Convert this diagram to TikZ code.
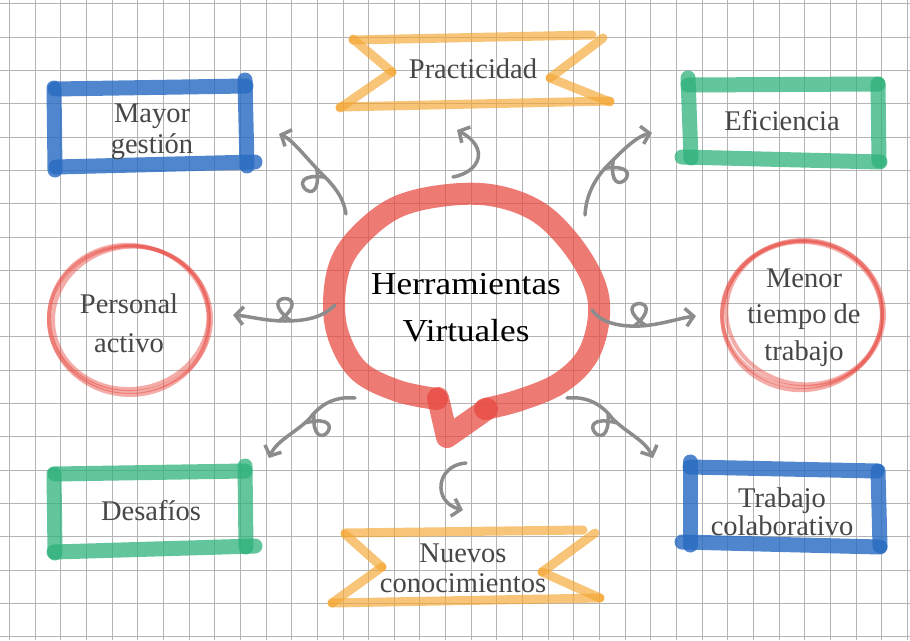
\documentclass[tikz,border=0pt]{standalone}
\usepackage{fontspec}
\setmainfont{Liberation Serif}
\newfontfamily\bubblefont[FakeStretch=1.1]{Liberation Serif}
\usetikzlibrary{arrows.meta}
\definecolor{labelgray}{HTML}{474747}
\definecolor{gridc}{HTML}{B4B4B4}
\definecolor{arrowc}{HTML}{8C8C8C}
\definecolor{redc}{HTML}{E8483F}
\definecolor{bluec}{HTML}{2A6CC2}
\definecolor{greenc}{HTML}{2EB27A}
\definecolor{orangec}{HTML}{F5A630}
\newcommand{\lblstack}[1]{\begin{tabular}[t]{@{}c@{}}#1\end{tabular}}
\tikzset{
  gridline/.style={draw=gridc, line width=0.55pt},
  bluestroke/.style={draw=bluec, draw opacity=0.82, line width=15pt, line cap=round},
  greenstroke/.style={draw=greenc, draw opacity=0.75, line width=15pt, line cap=round},
  orangestroke/.style={draw=orangec, draw opacity=0.65, line width=9pt, line cap=round},
  redring/.style={draw=redc, draw opacity=0.45, line width=4pt},
  bubblestroke/.style={draw=redc, draw opacity=0.72, line width=22pt, line cap=round, line join=round},
  garrow/.style={draw=arrowc, line width=3.5pt, line cap=round, -{Straight Barb[length=8pt,width=18pt]}},
  gline/.style={draw=arrowc, line width=3.5pt, line cap=round},
  lbl/.style={font=\fontsize{28.5}{#1}\selectfont, text=labelgray, inner sep=0pt, anchor=base},
  lbl/.default=32,
  centertext/.style={font=\bubblefont\fontsize{32}{47}\selectfont, text=black, inner sep=0pt, anchor=base},
  curl/.pic={\draw[gline] (-6,0) .. controls (34,-30) and (-34,-30) .. (6,0);}
}
\begin{document}
\begin{tikzpicture}[x=1pt,y=-1pt]
\useasboundingbox (0,0) rectangle (910,640);
\fill[white] (0,0) rectangle (910,640);
% grid paper
\foreach \k in {-1,...,34} \draw[gridline] ({35+25.65*\k},0) -- ({35+25.65*\k},640);
\foreach \k in {-1,...,18} \draw[gridline] (0,{37+33.3*\k}) -- (910,{37+33.3*\k});

% Mayor gestion (blue)
\draw[bluestroke] (55,89) -- (246,86);
\draw[bluestroke] (245,80) -- (247,166);
\draw[bluestroke] (56,167) -- (255,162);
\draw[bluestroke] (54,88) -- (55,170);
% Eficiencia (green)
\draw[greenstroke] (688,85) -- (878,84);
\draw[greenstroke] (878,84) -- (879,161);
\draw[greenstroke] (682,157) -- (880,162);
\draw[greenstroke] (688,78) -- (691,158);
% Desafios (green)
\draw[greenstroke] (55,474) -- (245,471);
\draw[greenstroke] (245,466) -- (246,547);
\draw[greenstroke] (54,552) -- (255,546);
\draw[greenstroke] (54,474) -- (55,553);
% Trabajo colaborativo (blue)
\draw[bluestroke] (690,467) -- (877,471);
\draw[bluestroke] (878,471) -- (880,546);
\draw[bluestroke] (682,542) -- (880,547);
\draw[bluestroke] (690,462) -- (690,545);

% ribbons
\draw[orangestroke] (353,40) -- (592,35);
\draw[orangestroke] (353,39) -- (392,72);
\draw[orangestroke] (392,72) -- (340,108);
\draw[orangestroke] (340,107) -- (610,101);
\draw[orangestroke] (603,38) -- (550,78);
\draw[orangestroke] (550,78) -- (610,102);

\draw[orangestroke] (345,533) -- (583,530);
\draw[orangestroke] (345,534) -- (382,567);
\draw[orangestroke] (382,567) -- (332,603);
\draw[orangestroke] (332,603) -- (600,598);
\draw[orangestroke] (595,533) -- (542,572);
\draw[orangestroke] (542,572) -- (600,598);

% red rings
\draw[redring] (130,319) ellipse [x radius=81, y radius=73];
\draw[redring, rotate around={10:(130,319)}] (131,318) ellipse [x radius=78, y radius=71];
\draw[redring, rotate around={-6:(130,319)}] (129,320) ellipse [x radius=80, y radius=75];
\draw[redring] (803,314) ellipse [x radius=81, y radius=73];
\draw[redring, rotate around={-9:(803,314)}] (804,313) ellipse [x radius=78, y radius=71];
\draw[redring, rotate around={7:(803,314)}] (802,315) ellipse [x radius=80, y radius=75];

% speech bubble
\draw[bubblestroke] plot[smooth, tension=0.6] coordinates {(437,399) (398,391) (360,372) (340,340) (334,305) (340,265) (360,235) (395,208) (440,196) (490,195) (535,210) (568,240) (593,280) (599,315) (588,355) (560,383) (520,400) (485,409)};
\draw[bubblestroke] (438,398) -- (447,437) -- (487,409);

% labels
\node[centertext] (center) at (466,294) {\lblstack{Herramientas\\Virtuales}};
\node[lbl] (practicidad) at (473,78) {Practicidad};
\node[lbl=31] (mayor) at (152,122) {\lblstack{Mayor\\gestión}};
\node[lbl] (eficiencia) at (782,130) {Eficiencia};
\node[lbl=39] (personal) at (129,313) {\lblstack{Personal\\activo}};
\node[lbl=36.5] (menor) at (804,287) {\lblstack{Menor\\tiempo de\\trabajo}};
\node[lbl] (desafios) at (151,520) {Desafíos};
\node[lbl=28] (trabajo) at (782,507) {\lblstack{Trabajo\\colaborativo}};
\node[lbl=30] (nuevos) at (463,562) {\lblstack{Nuevos\\conocimientos}};

% arrows
\coordinate (s1) at (346,214); \coordinate (p1) at (321,173); \coordinate (t1) at (279,134);
\draw[garrow] (s1) .. controls (343,196) and (334,186) .. (p1) .. controls (306,158) and (293,140) .. (t1);
\pic[rotate=135] at (p1) {curl};

\coordinate (s2) at (453,177); \coordinate (t2) at (457,130);
\draw[garrow] (s2) .. controls (480,172) and (490,148) .. (t2);

\coordinate (s3) at (585,215); \coordinate (p3) at (609,164); \coordinate (t3) at (652,133);
\draw[garrow] (s3) .. controls (586,195) and (595,178) .. (p3) .. controls (623,150) and (637,136) .. (t3);
\pic[rotate=45, yscale=-1] at (p3) {curl};

\coordinate (s4) at (335,305); \coordinate (p4) at (285,321); \coordinate (t4) at (233,315);
\draw[garrow] (s4) .. controls (322,318) and (305,321) .. (p4) .. controls (265,321) and (248,316) .. (t4);
\pic[rotate=180, yscale=-1] at (p4) {curl};

\coordinate (s5) at (592,310); \coordinate (p5) at (640,326); \coordinate (t5) at (696,316);
\draw[garrow] (s5) .. controls (600,322) and (618,327) .. (p5) .. controls (660,325) and (680,318) .. (t5);
\pic[rotate=3] at (p5) {curl};

\coordinate (s6) at (355,398); \coordinate (p6) at (310,418); \coordinate (t6) at (269,458);
\draw[garrow] (s6) .. controls (334,396) and (320,405) .. (p6) .. controls (297,432) and (277,440) .. (t6);
\pic[rotate=230] at (p6) {curl};

\coordinate (s7) at (567,398); \coordinate (p7) at (612,418); \coordinate (t7) at (653,458);
\draw[garrow] (s7) .. controls (588,396) and (602,405) .. (p7) .. controls (625,432) and (645,440) .. (t7);
\pic[rotate=-50, yscale=-1] at (p7) {curl};

\coordinate (s8) at (466,463); \coordinate (t8) at (463,510);
\draw[garrow] (s8) .. controls (436,465) and (432,502) .. (t8);
\end{tikzpicture}
\end{document}
